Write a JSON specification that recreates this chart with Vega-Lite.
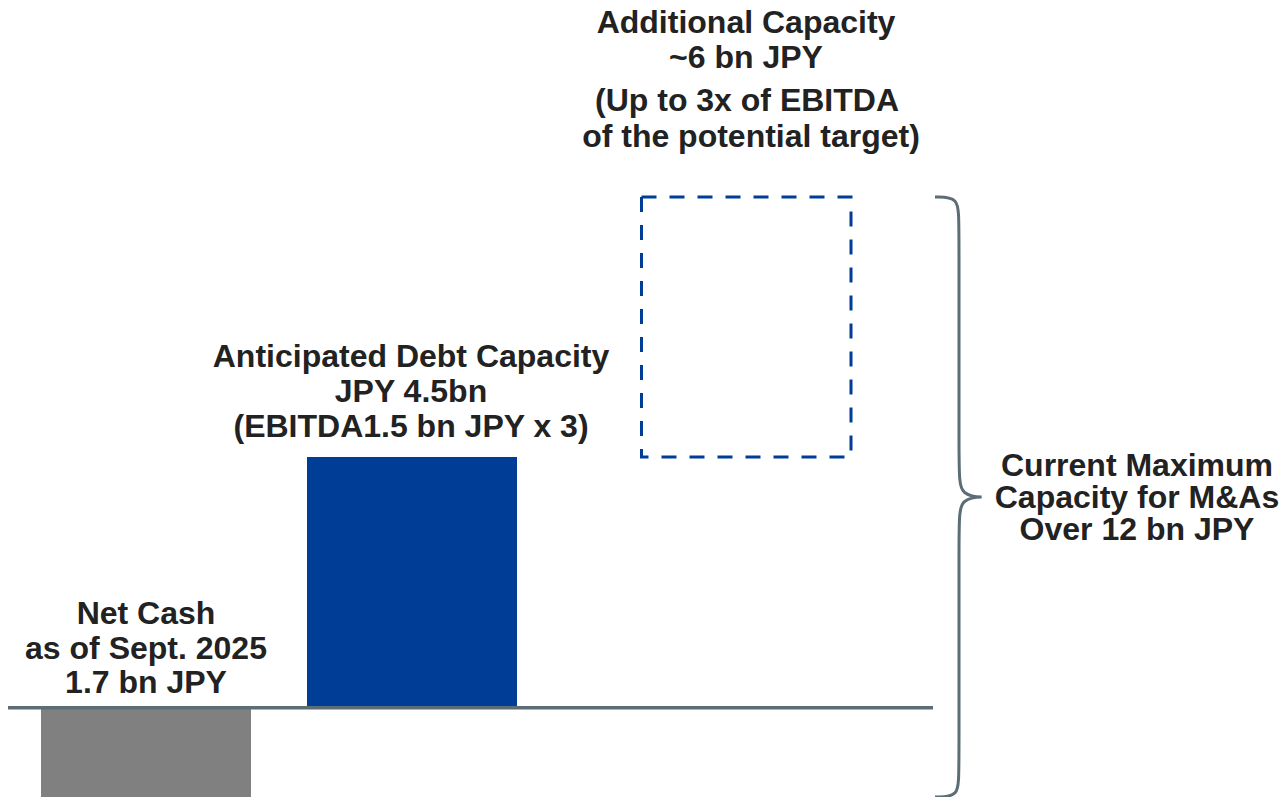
{
  "$schema": "https://vega.github.io/schema/vega-lite/v6.json",
  "width": 1281,
  "height": 797,
  "autosize": {"type": "none"},
  "padding": 0,
  "background": "white",
  "config": {"view": {"stroke": null}},
  "datasets": {
    "bars": [
      {"item": "Net Cash", "x": 41, "x2": 251, "y": 0, "y2": -1.7},
      {"item": "Anticipated Debt Capacity", "x": 307, "x2": 517, "y": 0, "y2": 4.5}
    ],
    "box": [
      {"item": "Additional Capacity", "x": 641.5, "x2": 851, "y": 4.5, "y2": 9.165}
    ],
    "base": [
      {"x": 8, "x2": 933, "y": 0}
    ],
    "brace": [
      {"i": 0, "x": 935, "y": 9.165},
      {"i": 1, "x": 959, "y": 9.165},
      {"i": 2, "x": 959, "y": 8.717},
      {"i": 3, "x": 959, "y": 4.267},
      {"i": 4, "x": 959, "y": 3.783},
      {"i": 5, "x": 993, "y": 3.783},
      {"i": 6, "x": 959, "y": 3.783},
      {"i": 7, "x": 959, "y": 3.299},
      {"i": 8, "x": 959, "y": -1.151},
      {"i": 9, "x": 959, "y": -1.6},
      {"i": 10, "x": 935, "y": -1.6}
    ],
    "labels": [
      {"line": "Net Cash", "x": 146, "y": 1.504},
      {"line": "as of Sept. 2025", "x": 146, "y": 0.876},
      {"line": "1.7 bn JPY", "x": 146, "y": 0.266},
      {"line": "Anticipated Debt Capacity", "x": 411, "y": 6.115},
      {"line": "JPY 4.5bn", "x": 411, "y": 5.49},
      {"line": "(EBITDA1.5 bn JPY x 3)", "x": 411, "y": 4.859},
      {"line": "Additional Capacity", "x": 746, "y": 12.108},
      {"line": "~6 bn JPY", "x": 746, "y": 11.48},
      {"line": "(Up to 3x of EBITDA", "x": 747, "y": 10.708},
      {"line": "of the potential target)", "x": 751, "y": 10.062},
      {"line": "Current Maximum", "x": 1137, "y": 4.159},
      {"line": "Capacity for M&As", "x": 1137, "y": 3.585},
      {"line": "Over 12 bn JPY", "x": 1137, "y": 3.011}
    ]
  },
  "layer": [
    {
      "data": {"name": "bars"},
      "mark": {"type": "rect", "clip": true},
      "encoding": {
        "x": {"field": "x", "type": "quantitative", "scale": {"domain": [0, 1281], "nice": false, "zero": false}, "axis": null},
        "x2": {"field": "x2"},
        "y": {"field": "y", "type": "quantitative", "scale": {"domain": [-1.6, 12.7], "nice": false, "zero": false}, "axis": null},
        "y2": {"field": "y2"},
        "color": {"field": "item", "type": "nominal", "scale": {"domain": ["Net Cash", "Anticipated Debt Capacity"], "range": ["#808080", "#003d96"]}, "legend": null}
      }
    },
    {
      "data": {"name": "box"},
      "mark": {"type": "rect", "filled": false, "fill": null, "stroke": "#003d96", "strokeWidth": 3, "strokeDash": [15, 13]},
      "encoding": {
        "x": {"field": "x", "type": "quantitative", "scale": {"domain": [0, 1281], "nice": false, "zero": false}, "axis": null},
        "x2": {"field": "x2"},
        "y": {"field": "y", "type": "quantitative", "scale": {"domain": [-1.6, 12.7], "nice": false, "zero": false}, "axis": null},
        "y2": {"field": "y2"}
      }
    },
    {
      "data": {"name": "base"},
      "mark": {"type": "rule", "color": "#5d6d76", "strokeWidth": 3.5},
      "encoding": {
        "x": {"field": "x", "type": "quantitative", "scale": {"domain": [0, 1281], "nice": false, "zero": false}, "axis": null},
        "x2": {"field": "x2"},
        "y": {"field": "y", "type": "quantitative", "scale": {"domain": [-1.6, 12.7], "nice": false, "zero": false}, "axis": null}
      }
    },
    {
      "data": {"name": "brace"},
      "mark": {"type": "line", "interpolate": "basis", "color": "#5d6d76", "strokeWidth": 3},
      "encoding": {
        "x": {"field": "x", "type": "quantitative", "scale": {"domain": [0, 1281], "nice": false, "zero": false}, "axis": null},
        "y": {"field": "y", "type": "quantitative", "scale": {"domain": [-1.6, 12.7], "nice": false, "zero": false}, "axis": null},
        "order": {"field": "i", "type": "quantitative"}
      }
    },
    {
      "data": {"name": "labels"},
      "mark": {"type": "text", "align": "center", "baseline": "alphabetic", "font": "Liberation Sans", "fontWeight": "bold", "fontSize": 32, "color": "#222222"},
      "encoding": {
        "x": {"field": "x", "type": "quantitative", "scale": {"domain": [0, 1281], "nice": false, "zero": false}, "axis": null},
        "y": {"field": "y", "type": "quantitative", "scale": {"domain": [-1.6, 12.7], "nice": false, "zero": false}, "axis": null},
        "text": {"field": "line", "type": "nominal"}
      }
    }
  ]
}
